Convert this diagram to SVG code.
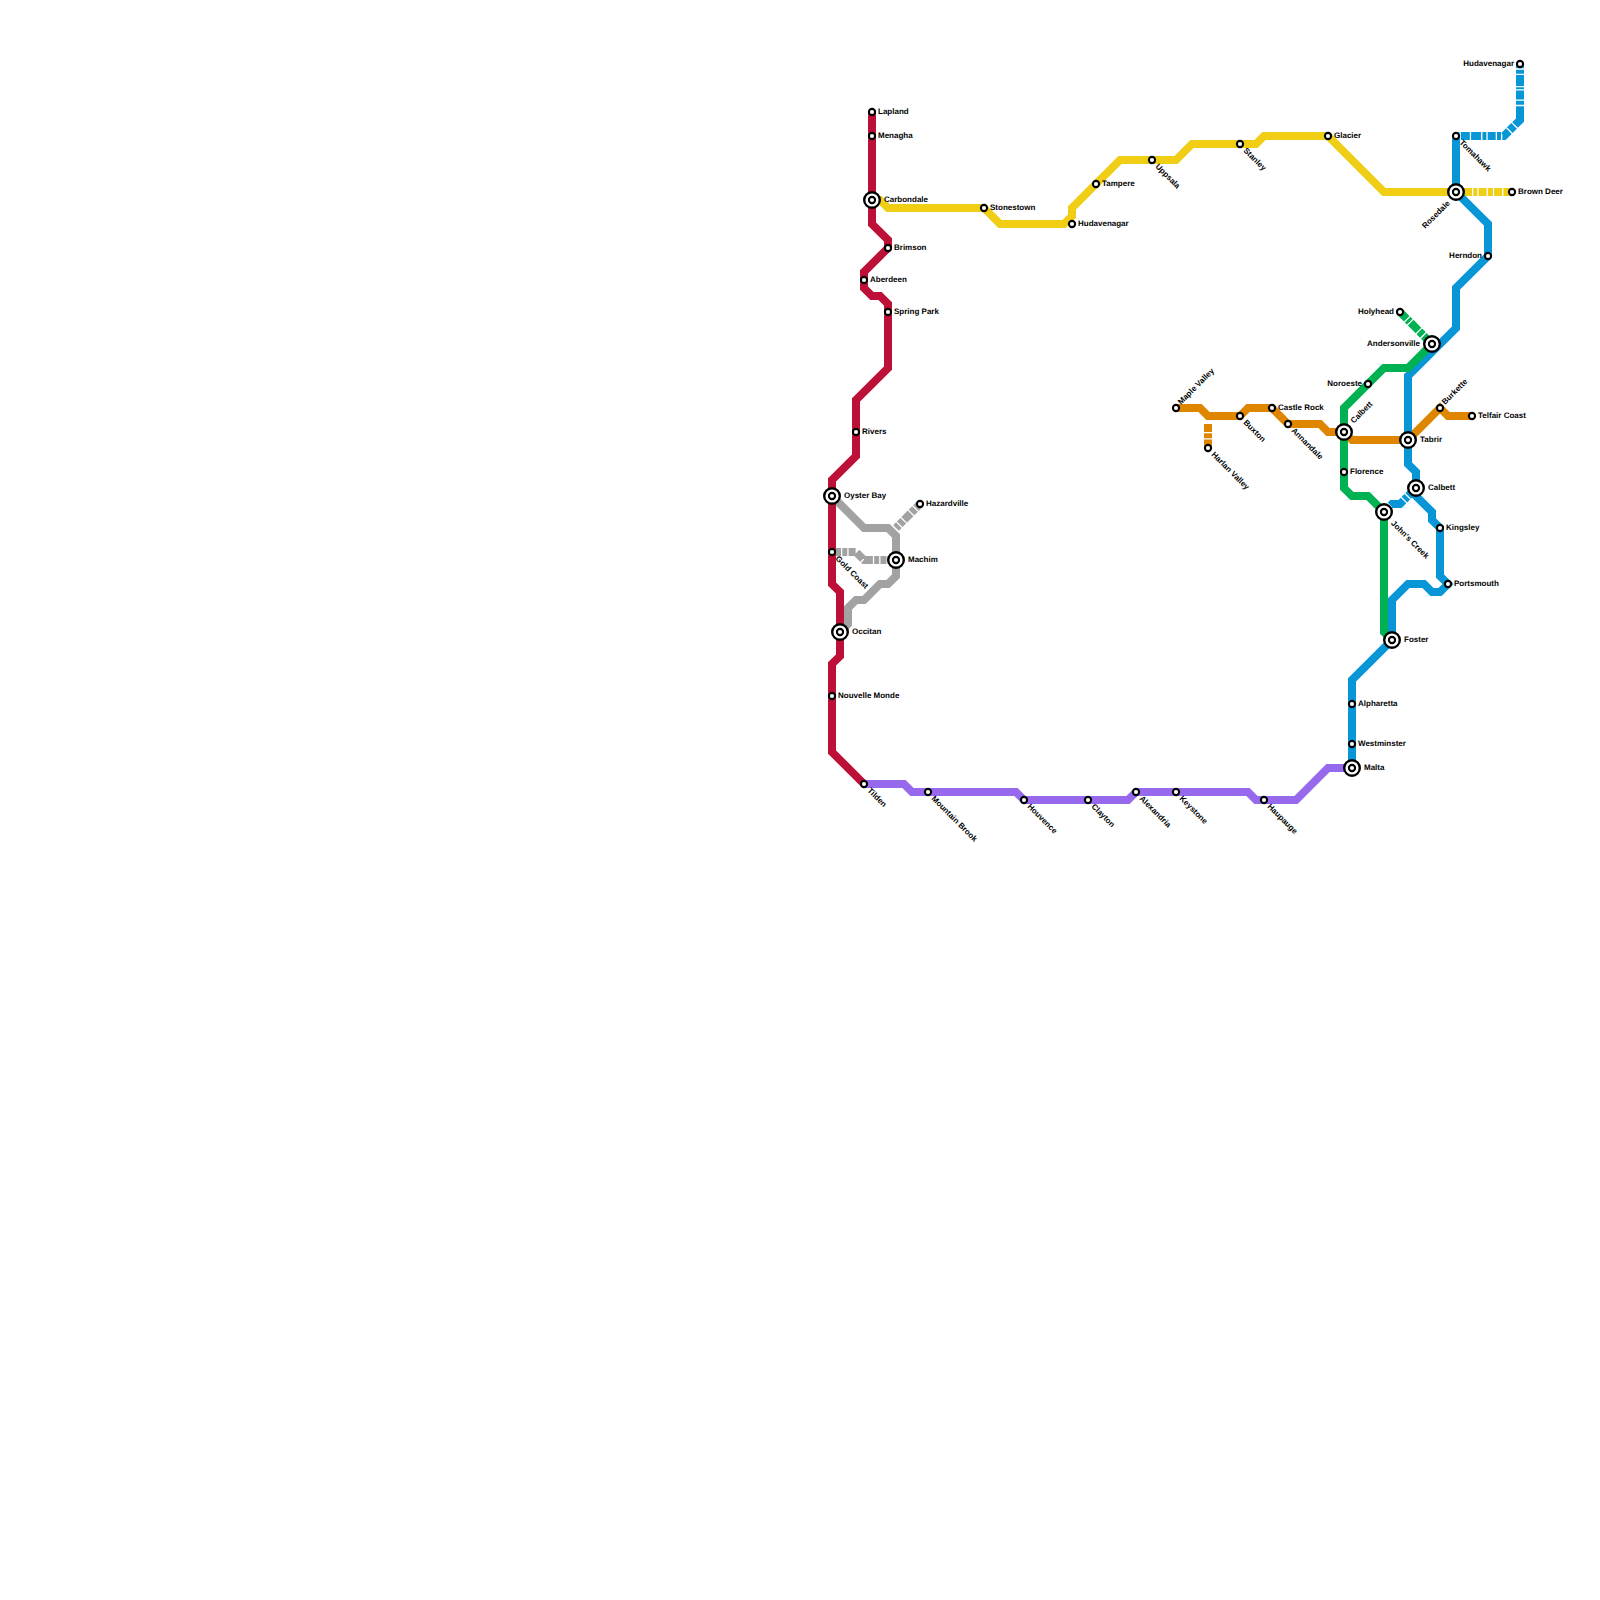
<svg xmlns="http://www.w3.org/2000/svg" width="1600" height="1600" viewBox="0 0 1600 1600">
<style>
.ln{fill:none;stroke-width:8;stroke-linejoin:miter;stroke-miterlimit:4}
.red{stroke:#bd1038}.yel{stroke:#f0ce15}.gry{stroke:#a2a2a2}.pur{stroke:#9769ec}.org{stroke:#df8600}.grn{stroke:#00b251}.blu{stroke:#0896d7}
.s{fill:#fff;stroke:#000;stroke-width:2.100}
.i{fill:#fff;stroke:#000;stroke-width:2.400}
.t{font-family:"Liberation Sans",Arial,sans-serif;font-size:8px;font-weight:700;fill:#000;text-rendering:geometricPrecision}
.e{text-anchor:end}
</style>
<rect width="1600" height="1600" fill="#fff"/>
<g id="connectors">
<path class="ln yel" d="M872 200H880L888 208H984L1000 224H1064L1072 216V208L1120 160H1176L1192 144H1256L1264 136H1328L1384 192H1456"/>
<path class="ln yel" stroke-dasharray="16 1.300 4 1.300 8 1.300 5 1.300 8 1.300 30 0" d="M1456 192H1512"/>
<path class="ln gry" d="M832 496L864 528H888L896 536V576L888 584H880L864 600H856L848 608V624L840 632"/>
<path class="ln gry" stroke-dasharray="9 1.300 5 1.300 7 1.300 9 1.300 9 1.300 5 1.300 6 1.300 100 0" d="M832 552H856L864 560H896"/>
<path class="ln gry" stroke-dasharray="4 1.300 5 1.300 9 1.300 5 1.300 30 0" d="M896 528L920 504"/>
<path class="ln red" d="M872 112V224L888 240V248L864 272V288L872 296H880L888 304V368L856 400V456L832 480V584L840 592V656L832 664V752L864 784"/>
<path class="ln pur" d="M864 784H904L912 792H1016L1024 800H1128L1136 792H1248L1256 800H1296L1328 768H1352"/>
<path class="ln org" d="M1176 408H1200L1208 416H1240L1248 408H1272L1288 424H1320L1328 432H1344L1352 440H1408L1440 408L1448 416H1472"/>
<path class="ln org" stroke-dasharray="8 1.300 5 1.300 30 0" d="M1208 424V448"/>
<path class="ln blu" d="M1352 768V680L1392 640V600L1408 584H1424L1432 592H1440L1448 584L1440 576V528L1432 520V512L1416 496V472L1408 464V376L1456 328V288L1488 256V224L1456 192V136"/>
<path class="ln blu" stroke-dasharray="3.500 1.300 9 1.300 10 1.300 4 1.300 8 1.300 4 1.300 8.600 1.300 6.100 1.300 20.900 1.300 4 1.300 9 1.300 2 1.300 11 1.300 4 1.300 20 0" d="M1456 136H1504L1520 120V64"/>
<path class="ln blu" stroke-dasharray="8 1.300 15 1.300 4 1.300 30 0" d="M1384 512L1392 504H1400L1416 488"/>
<path class="ln grn" d="M1432 344L1408 368H1384L1344 408V488L1352 496H1368L1384 512V632L1392 640"/>
<path class="ln grn" stroke-dasharray="9.500 1.300 3 1.300 11 1.300 5 1.300 30 0" d="M1400 312L1432 344"/>
</g>
<g id="n-lapland"><circle class="s" cx="872" cy="112" r="3.100"/><text class="t" x="878" y="114">Lapland</text></g>
<g id="n-menagha"><circle class="s" cx="872" cy="136" r="3.100"/><text class="t" x="878" y="138">Menagha</text></g>
<g id="n-carbondale"><circle class="i" cx="872" cy="200" r="7.800"/><circle class="s" cx="872" cy="200" r="3.100"/><text class="t" x="884" y="202">Carbondale</text></g>
<g id="n-stonestown"><circle class="s" cx="984" cy="208" r="3.100"/><text class="t" x="990" y="210">Stonestown</text></g>
<g id="n-hudavenagar"><circle class="s" cx="1072" cy="224" r="3.100"/><text class="t" x="1078" y="226">Hudavenagar</text></g>
<g id="n-tampere"><circle class="s" cx="1096" cy="184" r="3.100"/><text class="t" x="1102" y="186">Tampere</text></g>
<g id="n-uppsala"><circle class="s" cx="1152" cy="160" r="3.100"/><text class="t" transform="translate(1155 167) rotate(45)">Uppsala</text></g>
<g id="n-stanley"><circle class="s" cx="1240" cy="144" r="3.100"/><text class="t" transform="translate(1243 151) rotate(45)">Stanley</text></g>
<g id="n-glacier"><circle class="s" cx="1328" cy="136" r="3.100"/><text class="t" x="1334" y="138">Glacier</text></g>
<g id="n-brimson"><circle class="s" cx="888" cy="248" r="3.100"/><text class="t" x="894" y="250">Brimson</text></g>
<g id="n-aberdeen"><circle class="s" cx="864" cy="280" r="3.100"/><text class="t" x="870" y="282">Aberdeen</text></g>
<g id="n-spring-park"><circle class="s" cx="888" cy="312" r="3.100"/><text class="t" x="894" y="314">Spring Park</text></g>
<g id="n-rivers"><circle class="s" cx="856" cy="432" r="3.100"/><text class="t" x="862" y="434">Rivers</text></g>
<g id="n-oyster-bay"><circle class="i" cx="832" cy="496" r="7.800"/><circle class="s" cx="832" cy="496" r="3.100"/><text class="t" x="844" y="498">Oyster Bay</text></g>
<g id="n-hazardville"><circle class="s" cx="920" cy="504" r="3.100"/><text class="t" x="926" y="506">Hazardville</text></g>
<g id="n-machim"><circle class="i" cx="896" cy="560" r="7.800"/><circle class="s" cx="896" cy="560" r="3.100"/><text class="t" x="908" y="562">Machim</text></g>
<g id="n-gold-coast"><circle class="s" cx="832" cy="552" r="3.100"/><text class="t" transform="translate(835 559) rotate(45)">Gold Coast</text></g>
<g id="n-occitan"><circle class="i" cx="840" cy="632" r="7.800"/><circle class="s" cx="840" cy="632" r="3.100"/><text class="t" x="852" y="634">Occitan</text></g>
<g id="n-nouvelle-monde"><circle class="s" cx="832" cy="696" r="3.100"/><text class="t" x="838" y="698">Nouvelle Monde</text></g>
<g id="n-tilden"><circle class="s" cx="864" cy="784" r="3.100"/><text class="t" transform="translate(867 791) rotate(45)">Tilden</text></g>
<g id="n-mountain-brook"><circle class="s" cx="928" cy="792" r="3.100"/><text class="t" transform="translate(931 799) rotate(45)">Mountain Brook</text></g>
<g id="n-houvence"><circle class="s" cx="1024" cy="800" r="3.100"/><text class="t" transform="translate(1027 807) rotate(45)">Houvence</text></g>
<g id="n-clayton"><circle class="s" cx="1088" cy="800" r="3.100"/><text class="t" transform="translate(1091 807) rotate(45)">Clayton</text></g>
<g id="n-alexandria"><circle class="s" cx="1136" cy="792" r="3.100"/><text class="t" transform="translate(1139 799) rotate(45)">Alexandria</text></g>
<g id="n-keystone"><circle class="s" cx="1176" cy="792" r="3.100"/><text class="t" transform="translate(1179 799) rotate(45)">Keystone</text></g>
<g id="n-haupauge"><circle class="s" cx="1264" cy="800" r="3.100"/><text class="t" transform="translate(1267 807) rotate(45)">Haupauge</text></g>
<g id="n-malta"><circle class="i" cx="1352" cy="768" r="7.800"/><circle class="s" cx="1352" cy="768" r="3.100"/><text class="t" x="1364" y="770">Malta</text></g>
<g id="n-westminster"><circle class="s" cx="1352" cy="744" r="3.100"/><text class="t" x="1358" y="746">Westminster</text></g>
<g id="n-alpharetta"><circle class="s" cx="1352" cy="704" r="3.100"/><text class="t" x="1358" y="706">Alpharetta</text></g>
<g id="n-foster"><circle class="i" cx="1392" cy="640" r="7.800"/><circle class="s" cx="1392" cy="640" r="3.100"/><text class="t" x="1404" y="642">Foster</text></g>
<g id="n-johns-creek"><circle class="i" cx="1384" cy="512" r="7.800"/><circle class="s" cx="1384" cy="512" r="3.100"/><text class="t" transform="translate(1390.600 523.800) rotate(45)">John's Creek</text></g>
<g id="n-calbett-2"><circle class="i" cx="1416" cy="488" r="7.800"/><circle class="s" cx="1416" cy="488" r="3.100"/><text class="t" x="1428" y="490">Calbett</text></g>
<g id="n-kingsley"><circle class="s" cx="1440" cy="528" r="3.100"/><text class="t" x="1446" y="530">Kingsley</text></g>
<g id="n-portsmouth"><circle class="s" cx="1448" cy="584" r="3.100"/><text class="t" x="1454" y="586">Portsmouth</text></g>
<g id="n-florence"><circle class="s" cx="1344" cy="472" r="3.100"/><text class="t" x="1350" y="474">Florence</text></g>
<g id="n-calbett"><circle class="i" cx="1344" cy="432" r="7.800"/><circle class="s" cx="1344" cy="432" r="3.100"/><text class="t" transform="translate(1353.800 423.800) rotate(-45)">Calbett</text></g>
<g id="n-tabrir"><circle class="i" cx="1408" cy="440" r="7.800"/><circle class="s" cx="1408" cy="440" r="3.100"/><text class="t" x="1420" y="442">Tabrir</text></g>
<g id="n-burkette"><circle class="s" cx="1440" cy="408" r="3.100"/><text class="t" transform="translate(1445 405) rotate(-45)">Burkette</text></g>
<g id="n-telfair-coast"><circle class="s" cx="1472" cy="416" r="3.100"/><text class="t" x="1478" y="418">Telfair Coast</text></g>
<g id="n-andersonville"><circle class="i" cx="1432" cy="344" r="7.800"/><circle class="s" cx="1432" cy="344" r="3.100"/><text class="t e" x="1420" y="346">Andersonville</text></g>
<g id="n-holyhead"><circle class="s" cx="1400" cy="312" r="3.100"/><text class="t e" x="1394" y="314">Holyhead</text></g>
<g id="n-noroeste"><circle class="s" cx="1368" cy="384" r="3.100"/><text class="t e" x="1362" y="386">Noroeste</text></g>
<g id="n-maple-valley"><circle class="s" cx="1176" cy="408" r="3.100"/><text class="t" transform="translate(1181 405) rotate(-45)">Maple Valley</text></g>
<g id="n-buxton"><circle class="s" cx="1240" cy="416" r="3.100"/><text class="t" transform="translate(1243 423) rotate(45)">Buxton</text></g>
<g id="n-castle-rock"><circle class="s" cx="1272" cy="408" r="3.100"/><text class="t" x="1278" y="410">Castle Rock</text></g>
<g id="n-annandale"><circle class="s" cx="1288" cy="424" r="3.100"/><text class="t" transform="translate(1291 431) rotate(45)">Annandale</text></g>
<g id="n-harlan-valley"><circle class="s" cx="1208" cy="448" r="3.100"/><text class="t" transform="translate(1211 455) rotate(45)">Harlan Valley</text></g>
<g id="n-herndon"><circle class="s" cx="1488" cy="256" r="3.100"/><text class="t e" x="1482" y="258">Herndon</text></g>
<g id="n-rosedale"><circle class="i" cx="1456" cy="192" r="7.800"/><circle class="s" cx="1456" cy="192" r="3.100"/><text class="t e" transform="translate(1450.400 203.800) rotate(-45)">Rosedale</text></g>
<g id="n-tomahawk"><circle class="s" cx="1456" cy="136" r="3.100"/><text class="t" transform="translate(1459 143) rotate(45)">Tomahawk</text></g>
<g id="n-hudavenagar-2"><circle class="s" cx="1520" cy="64" r="3.100"/><text class="t e" x="1514" y="66">Hudavenagar</text></g>
<g id="n-brown-deer"><circle class="s" cx="1512" cy="192" r="3.100"/><text class="t" x="1518" y="194">Brown Deer</text></g>
</svg>
